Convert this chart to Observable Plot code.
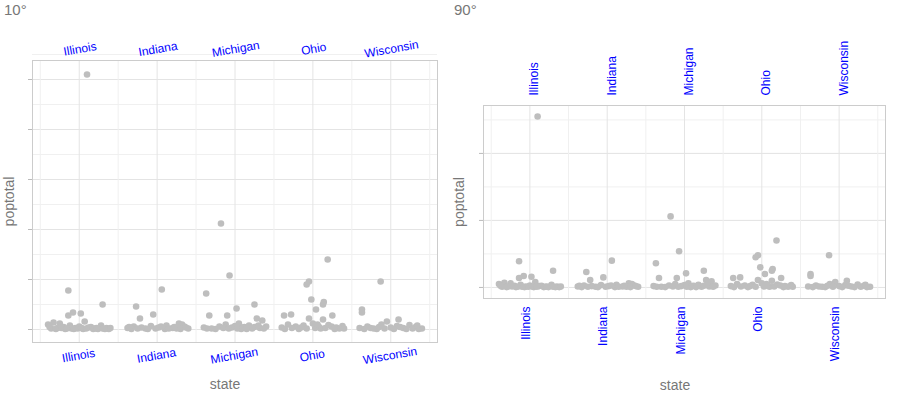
<!DOCTYPE html>
<html><head><meta charset="utf-8">
<script src="https://cdn.jsdelivr.net/npm/d3@7"></script>
<script src="https://cdn.jsdelivr.net/npm/@observablehq/plot@0.6"></script>
<style>
body{margin:0;font-family:"Liberation Sans",Arial,sans-serif;background:#fff}
#wrap{display:flex}
.panel{width:450px;position:relative;height:400px}
.title{height:20px;font-size:15px;color:#777;padding-left:4px;line-height:20px}
.xl{position:absolute;left:0;right:0;text-align:center;font-size:14px;color:#777}
</style></head><body>
<div id="wrap"><div class="panel" id="p1"></div><div class="panel" id="p2"></div></div>
<script>
const states = ["Illinois", "Indiana", "Michigan", "Ohio", "Wisconsin"];
// [jitter offset, poptotal in millions]
const illinois = [[0.1,5.1],[-0.14,0.78],[0.3,0.5],[-0.08,0.34],[0.02,0.32],[-0.14,0.28],[0.07,0.16],
  [-0.4,0.1],[-0.33,0.14],[-0.25,0.12],[-0.2,0.05],[-0.12,0.08],[-0.05,0.03],[0,0.06],[0.12,0.04],[0.2,0.02],
  [0.28,0.08],[0.35,0.03],[-0.36,0.02],[-0.28,0.03],[-0.18,0.01],[-0.1,0.02],[0.05,0.01],[0.15,0.05],[0.24,0.01],[0.38,0.01],
  [-0.38,0.05],[-0.3,0.01],[-0.23,0.03],[-0.16,0.02],[-0.07,0.01],[-0.02,0.02],[0.03,0.03],[0.09,0.02],[0.18,0.01],[0.22,0.03],[0.3,0.02],[0.33,0.01],[0.4,0.03]];
const indiana = [[-0.27,0.46],[0.06,0.8],[-0.05,0.3],[-0.22,0.22],[-0.38,0.03],[-0.3,0.06],[-0.15,0.02],[-0.08,0.07],
  [0.02,0.04],[0.12,0.08],[0.2,0.03],[0.28,0.12],[0.35,0.06],[0.4,0.02],[-0.33,0.01],[-0.2,0.04],[0.1,0.01],[0.25,0.02],[0.32,0.1],
  [-0.36,0.05],[-0.25,0.02],[-0.12,0.01],[-0.02,0.02],[0.05,0.06],[0.15,0.02],[0.22,0.05],[0.3,0.01],[0.37,0.04]];
const michigan = [[-0.18,2.12],[-0.07,1.08],[-0.37,0.72],[0.25,0.5],[0.02,0.42],[-0.33,0.28],[-0.1,0.28],[0.28,0.22],[0.35,0.18],
  [-0.4,0.04],[-0.3,0.02],[-0.2,0.06],[-0.12,0.1],[-0.04,0.04],[0.05,0.12],[0.12,0.05],[0.18,0.08],[0.32,0.03],[0.4,0.06],[-0.25,0.01],[0.08,0.01],[0.22,0.02],
  [-0.36,0.02],[-0.15,0.03],[-0.08,0.02],[0,0.07],[0.03,0.02],[0.1,0.04],[0.15,0.01],[0.25,0.05],[0.3,0.08],[0.37,0.02]];
const ohio = [[0.19,1.4],[-0.05,0.96],[-0.08,0.9],[-0.02,0.6],[0.14,0.55],[0.13,0.5],[0.04,0.4],[-0.37,0.28],[-0.28,0.3],[0.25,0.28],[-0.05,0.22],[0.13,0.2],
  [-0.4,0.04],[-0.32,0.1],[-0.22,0.06],[-0.12,0.08],[0,0.12],[0.08,0.05],[0.2,0.09],[0.3,0.04],[0.38,0.07],[-0.18,0.01],[0.1,0.02],[0.34,0.02],
  [-0.36,0.01],[-0.27,0.03],[-0.15,0.04],[-0.08,0.02],[0.03,0.03],[0.06,0.1],[0.16,0.03],[0.24,0.06],[0.28,0.01],[0.4,0.02]];
const wisconsin = [[-0.13,0.96],[-0.37,0.4],[-0.37,0.34],[0.1,0.2],[-0.05,0.16],
  [-0.4,0.03],[-0.3,0.06],[-0.22,0.02],[-0.12,0.1],[0,0.04],[0.08,0.07],[0.16,0.03],[0.24,0.09],[0.32,0.05],[0.4,0.02],[-0.18,0.01],[0.2,0.01],[0.36,0.01],
  [-0.34,0.01],[-0.26,0.03],[-0.08,0.02],[0.04,0.01],[0.12,0.05],[0.28,0.02],[0.34,0.08],[-0.15,0.05]];

const data = [illinois, indiana, michigan, ohio, wisconsin]
  .flatMap((arr, i) => arr.map(([dx, p]) => ({x: i + dx, pop: p * 1e6, state: states[i]})));

function panel(el, title, rot, cfg) {
  const div = d3.select(el);
  div.append("div").attr("class", "title").text(title);
  const lbl = (anchor, dy, ta) => Plot.text(states, {x: (d, i) => i, text: d => d, frameAnchor: anchor, dy,
    rotate: rot, textAnchor: ta, fill: "blue", fontSize: 12});
  const chart = Plot.plot({
    width: 450, height: 380,
    marginLeft: cfg.ml, marginRight: cfg.mr, marginTop: cfg.mt, marginBottom: cfg.mb,
    style: {fontFamily: "Liberation Sans, Arial, sans-serif", overflow: "visible"},
    x: {domain: [-0.6, 4.6], axis: null},
    y: {domain: cfg.yd},
    marks: [
      Plot.gridY(d3.range(0, 5.6e6, cfg.step / 2), {stroke: "#f0f0f0", strokeOpacity: 1}),
      Plot.gridY(d3.range(0, 5.6e6, cfg.step), {stroke: "#e4e4e4", strokeOpacity: 1}),
      Plot.gridX(d3.range(-0.5, 4.6, 1), {stroke: "#f0f0f0", strokeOpacity: 1}),
      Plot.gridX(d3.range(5), {stroke: "#e4e4e4", strokeOpacity: 1}),
      Plot.frame({stroke: "#ccc"}),
      lbl("top", cfg.topDy, cfg.topTa),
      lbl("bottom", cfg.botDy, cfg.botTa),
      Plot.axisY({ticks: d3.range(0, 5.6e6, cfg.step), tickFormat: () => "", tickSize: 4, stroke: "#bbb",
        label: "poptotal", labelAnchor: "center", labelArrow: "none", labelOffset: cfg.ml - 4}),
      Plot.dot(data, {x: "x", y: "pop", r: 3.3, fill: "#bebebe", stroke: null})
    ]
  });
  d3.select(chart).selectAll("[aria-label='y-axis label'] text").attr("fill", "#777").style("font-size", "14px");
  div.append(() => chart);
  div.append("div").attr("class", "xl").style("top", cfg.xly + "px").text("state");
}
panel("#p1", "10°", -10, {ml: 32, mr: 13, mt: 40, mb: 58, yd: [-0.26e6, 5.38e6], step: 1e6, xly: 376,
  topDy: -16, topTa: "middle", botDy: 17, botTa: "middle"});
panel("#p2", "90°", -90, {ml: 33, mr: 15, mt: 85, mb: 102, yd: [-0.33e6, 5.43e6], step: 2e6, xly: 377,
  topDy: -10, topTa: "start", botDy: 8, botTa: "end"});
</script></body></html>
